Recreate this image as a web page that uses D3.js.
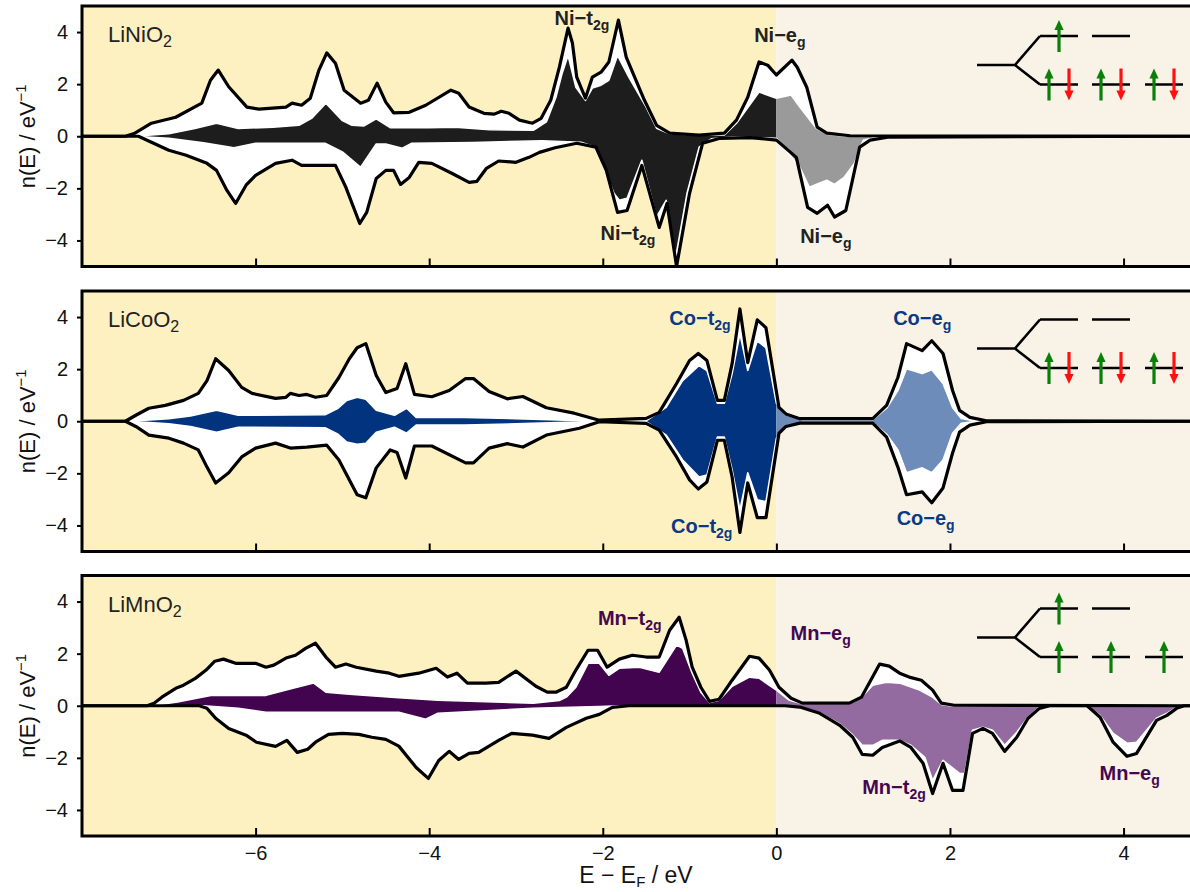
<!DOCTYPE html>
<html><head><meta charset="utf-8">
<script src="https://cdn.jsdelivr.net/npm/d3@7"></script>
<style>body{margin:0;background:#fff}</style>
</head><body>
<svg id="c" width="1190" height="892"></svg>
<script>
// ---------------- DATA ----------------
const xTicks = [-6,-4,-2,0,2,4];
const yTicks = [-4,-2,0,2,4];
const titles = ["LiNiO","LiCoO","LiMnO"];

// LiNiO2
const niTotUp = [[-8,0],[-7.5,0],[-7.4,0.1],[-7.2,0.5],[-6.92,0.73],[-6.62,1.27],[-6.52,2.15],[-6.43,2.54],[-6.31,1.9],[-6.1,1.12],[-5.96,1.04],[-5.65,1.12],[-5.58,1.27],[-5.47,1.19],[-5.37,1.46],[-5.27,2.54],[-5.18,3.2],[-5.08,2.8],[-4.98,1.77],[-4.79,1.27],[-4.7,1.38],[-4.6,2.04],[-4.5,1.31],[-4.41,0.9],[-4.23,0.92],[-4.04,1.19],[-3.75,1.77],[-3.66,1.65],[-3.54,1.12],[-3.37,0.88],[-3.25,0.85],[-3.17,0.96],[-3.08,0.88],[-2.96,0.62],[-2.81,0.5],[-2.71,0.69],[-2.6,1.38],[-2.5,2.65],[-2.4,4.15],[-2.35,3.58],[-2.3,2.27],[-2.2,1.46],[-2.12,2.27],[-2.02,2.46],[-1.93,2.85],[-1.82,4.46],[-1.73,3.04],[-1.52,1.38],[-1.38,0.42],[-1.23,0.12],[-0.89,0.04],[-0.6,0.12],[-0.46,0.62],[-0.33,1.5],[-0.2,2.85],[-0.1,2.73],[0,2.35],[0.18,2.92],[0.24,2.65],[0.35,1.88],[0.47,0.35],[0.58,0.12],[0.85,0.02],[4.8,0]];
const niTotDn = [[-8,0],[-7.35,0],[-7.2,-0.23],[-7.0,-0.54],[-6.8,-0.73],[-6.56,-1.04],[-6.45,-1.31],[-6.33,-2.08],[-6.23,-2.58],[-6.11,-1.88],[-6.0,-1.5],[-5.77,-1.04],[-5.58,-0.92],[-5.47,-1.12],[-5.08,-1.12],[-4.96,-1.96],[-4.8,-3.35],[-4.72,-2.92],[-4.61,-1.62],[-4.5,-1.31],[-4.41,-1.31],[-4.33,-1.85],[-4.23,-1.58],[-4.12,-1.0],[-3.97,-1.04],[-3.74,-1.42],[-3.54,-1.77],[-3.45,-1.73],[-3.34,-1.23],[-3.2,-0.95],[-3.0,-1.0],[-2.85,-0.81],[-2.73,-0.62],[-2.55,-0.44],[-2.3,-0.27],[-2.08,-0.42],[-1.96,-1.31],[-1.83,-2.92],[-1.72,-2.85],[-1.55,-1.12],[-1.35,-3.5],[-1.26,-2.58],[-1.15,-5.0],[-1.0,-2.19],[-0.85,-0.27],[-0.65,-0.08],[-0.3,-0.05],[0,-0.15],[0.23,-0.81],[0.36,-2.73],[0.47,-2.96],[0.59,-2.65],[0.67,-3.1],[0.8,-2.85],[0.96,-0.42],[1.08,-0.15],[1.3,-0.03],[4.8,0]];
const niDUp = [[-8,0],[-7.4,0],[-7.0,0.1],[-6.7,0.3],[-6.45,0.5],[-6.2,0.3],[-5.8,0.35],[-5.5,0.42],[-5.35,0.7],[-5.19,1.27],[-5.0,0.6],[-4.89,0.42],[-4.75,0.4],[-4.61,0.67],[-4.45,0.33],[-4.0,0.33],[-3.7,0.35],[-3.3,0.25],[-2.8,0.23],[-2.65,0.55],[-2.54,1.5],[-2.47,2.4],[-2.4,3.1],[-2.31,1.88],[-2.2,1.38],[-2.12,1.85],[-2.02,1.96],[-1.93,2.15],[-1.83,3.1],[-1.7,2.27],[-1.5,1.12],[-1.38,0.31],[-1.23,0.1],[-0.9,0.04],[-0.6,0.05],[-0.46,0.5],[-0.31,1.19],[-0.2,1.7],[0,1.46],[0.17,1.58],[0.27,1.12],[0.46,0.31],[0.58,0.08],[0.8,0],[4.8,0]];
const niDDn = [[-8,0],[-7.4,0],[-7.0,-0.08],[-6.6,-0.25],[-6.25,-0.44],[-6.0,-0.27],[-5.2,-0.27],[-5.0,-0.6],[-4.79,-1.19],[-4.61,-0.3],[-4.5,-0.3],[-4.31,-0.46],[-4.2,-0.27],[-3.5,-0.24],[-2.7,-0.17],[-2.25,-0.23],[-2.08,-0.42],[-1.87,-2.2],[-1.81,-2.46],[-1.72,-2.38],[-1.55,-0.92],[-1.38,-3.1],[-1.27,-2.46],[-1.16,-4.65],[-1.03,-2.2],[-0.89,-0.42],[-0.75,-0.1],[-0.5,-0.03],[0,-0.08],[0.27,-1.19],[0.38,-1.96],[0.58,-1.69],[0.67,-1.85],[0.78,-1.58],[0.9,-1.04],[1.0,-0.15],[1.2,0],[4.8,0]];

// LiCoO2
const coTotUp = [[-8,0],[-7.5,0],[-7.38,0.23],[-7.23,0.5],[-7.04,0.61],[-6.83,0.8],[-6.66,1.07],[-6.56,1.56],[-6.46,2.4],[-6.31,1.95],[-6.16,1.3],[-6.04,1.07],[-5.77,0.88],[-5.65,0.92],[-5.6,1.07],[-5.5,0.99],[-5.41,1.03],[-5.31,0.92],[-5.18,0.99],[-5.04,1.68],[-4.92,2.4],[-4.83,2.82],[-4.73,2.98],[-4.61,1.76],[-4.5,1.1],[-4.37,1.26],[-4.27,2.21],[-4.17,1.03],[-3.97,0.94],[-3.77,1.18],[-3.58,1.64],[-3.49,1.64],[-3.31,1.14],[-3.1,0.86],[-2.92,0.95],[-2.65,0.52],[-2.33,0.31],[-2.04,0.04],[-1.5,0.11],[-1.35,0.34],[-1.15,1.45],[-1.0,2.33],[-0.9,2.6],[-0.8,2.33],[-0.68,0.8],[-0.6,0.8],[-0.51,2.21],[-0.42,4.31],[-0.33,2.25],[-0.22,3.89],[-0.12,3.59],[0.03,0.53],[0.11,0.28],[0.27,0.1],[1.11,0.1],[1.27,0.61],[1.4,1.68],[1.5,2.98],[1.68,2.71],[1.79,3.09],[1.92,2.6],[2.03,1.18],[2.11,0.42],[2.23,0.15],[2.42,0.02],[4.8,0]];
const coTotDn = [[-8,0],[-7.5,0],[-7.38,-0.2],[-7.23,-0.53],[-7.0,-0.65],[-6.83,-0.84],[-6.66,-1.1],[-6.56,-1.76],[-6.46,-2.37],[-6.31,-1.98],[-6.16,-1.37],[-6.0,-1.03],[-5.77,-0.84],[-5.6,-1.03],[-5.41,-0.99],[-5.18,-0.92],[-5.04,-1.49],[-4.83,-2.82],[-4.73,-2.94],[-4.61,-1.79],[-4.45,-1.1],[-4.37,-1.2],[-4.27,-2.18],[-4.17,-0.95],[-3.97,-0.95],[-3.58,-1.6],[-3.49,-1.6],[-3.31,-1.03],[-3.1,-0.86],[-2.92,-0.99],[-2.65,-0.53],[-2.27,-0.27],[-2.04,-0.02],[-1.5,-0.08],[-1.35,-0.34],[-1.15,-1.37],[-1.0,-2.25],[-0.9,-2.6],[-0.8,-2.33],[-0.68,-0.73],[-0.6,-0.73],[-0.51,-2.14],[-0.42,-4.27],[-0.33,-2.37],[-0.22,-3.7],[-0.12,-3.7],[0.03,-0.46],[0.11,-0.2],[0.27,-0.07],[1.11,-0.07],[1.27,-0.61],[1.4,-1.76],[1.5,-2.82],[1.68,-2.71],[1.79,-3.13],[1.92,-2.56],[2.03,-1.22],[2.11,-0.42],[2.23,-0.15],[2.42,-0.02],[4.8,0]];
const coDUp = [[-8,0],[-7.45,0],[-7.0,0.1],[-6.75,0.2],[-6.45,0.42],[-6.2,0.23],[-5.2,0.25],[-5.05,0.5],[-4.95,0.8],[-4.83,0.92],[-4.73,0.85],[-4.61,0.42],[-4.4,0.23],[-4.26,0.5],[-4.15,0.15],[-3.6,0.15],[-3.0,0.1],[-2.04,0],[-1.5,0.02],[-1.27,0.53],[-1.08,1.56],[-0.89,2.14],[-0.8,1.95],[-0.68,0.69],[-0.6,0.69],[-0.51,1.83],[-0.42,3.36],[-0.33,1.95],[-0.22,3.09],[-0.12,2.82],[0,0.69],[0.11,0.25],[0.3,0.06],[1.11,0.06],[1.27,0.5],[1.4,1.18],[1.5,2.02],[1.68,1.83],[1.79,1.98],[1.92,1.45],[2.03,0.53],[2.13,0.11],[2.3,0],[4.8,0]];
const coDDn = [[-8,0],[-7.45,0],[-7.0,-0.1],[-6.75,-0.2],[-6.45,-0.42],[-6.2,-0.23],[-5.2,-0.25],[-5.05,-0.5],[-4.95,-0.8],[-4.83,-0.88],[-4.73,-0.85],[-4.61,-0.42],[-4.4,-0.23],[-4.26,-0.46],[-4.15,-0.15],[-3.6,-0.15],[-3.0,-0.1],[-2.04,0],[-1.5,-0.02],[-1.27,-0.53],[-1.08,-1.49],[-0.89,-2.14],[-0.8,-2.06],[-0.68,-0.61],[-0.6,-0.61],[-0.51,-1.87],[-0.42,-3.4],[-0.33,-1.98],[-0.22,-3.01],[-0.12,-3.09],[0,-0.65],[0.11,-0.2],[0.3,-0.05],[1.11,-0.05],[1.27,-0.5],[1.4,-1.1],[1.5,-1.98],[1.68,-1.79],[1.79,-1.98],[1.92,-1.49],[2.03,-0.46],[2.13,-0.08],[2.3,0],[4.8,0]];

// LiMnO2
const mnTotUp = [[-8,0],[-7.25,0],[-7.17,0.1],[-7.08,0.33],[-6.92,0.67],[-6.83,0.79],[-6.69,1.06],[-6.57,1.37],[-6.47,1.71],[-6.37,1.79],[-6.23,1.63],[-6.0,1.63],[-5.88,1.48],[-5.79,1.56],[-5.65,1.83],[-5.54,1.94],[-5.42,2.21],[-5.31,2.4],[-5.19,1.87],[-5.08,1.48],[-4.96,1.6],[-4.84,1.48],[-4.61,1.33],[-4.46,1.25],[-4.35,1.13],[-4.12,1.25],[-3.92,1.44],[-3.79,1.1],[-3.68,1.25],[-3.56,0.87],[-3.35,0.87],[-3.2,0.9],[-3.0,1.33],[-2.77,0.75],[-2.64,0.52],[-2.54,0.52],[-2.42,0.71],[-2.31,1.37],[-2.17,2.13],[-2.06,2.13],[-1.95,1.48],[-1.81,1.79],[-1.66,1.94],[-1.5,1.87],[-1.35,1.87],[-1.23,2.9],[-1.12,3.4],[-1.04,2.52],[-0.97,1.48],[-0.87,0.71],[-0.77,0.17],[-0.66,0.25],[-0.51,0.98],[-0.31,1.9],[-0.2,1.83],[-0.08,1.37],[0.03,0.71],[0.17,0.29],[0.3,0.1],[0.84,0.1],[0.98,0.33],[1.19,1.6],[1.3,1.52],[1.42,1.25],[1.53,1.1],[1.67,0.98],[1.8,0.6],[1.9,0.1],[2.05,0.02],[4.8,0]];
const mnTotDn = [[-8,0],[-6.65,0],[-6.56,-0.1],[-6.46,-0.48],[-6.31,-0.87],[-6.11,-1.13],[-5.99,-1.4],[-5.77,-1.56],[-5.64,-1.33],[-5.52,-1.79],[-5.4,-1.67],[-5.31,-1.4],[-5.16,-1.1],[-5.0,-1.06],[-4.81,-1.1],[-4.66,-1.21],[-4.5,-1.29],[-4.35,-1.55],[-4.15,-2.37],[-4.01,-2.79],[-3.89,-2.1],[-3.77,-1.75],[-3.66,-2.06],[-3.54,-1.83],[-3.43,-1.79],[-3.2,-1.33],[-3.05,-1.06],[-2.81,-1.13],[-2.62,-1.25],[-2.42,-0.83],[-2.19,-0.48],[-2.04,-0.33],[-1.89,-0.06],[-1.7,0],[0.1,0],[0.27,-0.05],[0.5,-0.29],[0.73,-0.75],[0.88,-1.21],[0.99,-1.87],[1.11,-1.9],[1.22,-1.6],[1.42,-1.35],[1.55,-1.6],[1.69,-2.21],[1.8,-3.37],[1.92,-2.21],[2.03,-3.25],[2.15,-3.25],[2.26,-1.06],[2.38,-0.87],[2.49,-1.06],[2.63,-1.75],[2.77,-1.21],[2.9,-0.48],[3.03,-0.1],[3.15,0],[3.58,0],[3.73,-0.44],[3.88,-1.4],[4.04,-1.94],[4.15,-1.83],[4.38,-0.56],[4.5,-0.37],[4.61,-0.1],[4.7,0],[4.8,0]];
const mnDUp = [[-8,0],[-7.2,0],[-6.9,0.15],[-6.5,0.4],[-5.88,0.4],[-5.57,0.67],[-5.33,0.87],[-5.19,0.52],[-4.92,0.44],[-4.35,0.31],[-3.9,0.21],[-2.8,0.1],[-2.5,0.2],[-2.42,0.33],[-2.31,0.71],[-2.17,1.63],[-2.04,1.63],[-1.93,1.17],[-1.81,1.44],[-1.58,1.48],[-1.35,1.29],[-1.15,2.33],[-1.08,2.21],[-0.97,1.25],[-0.87,0.52],[-0.77,0.13],[-0.66,0.21],[-0.51,0.75],[-0.31,1.1],[-0.2,1.06],[0,0.6],[0.15,0.21],[0.3,0.08],[0.84,0.08],[0.98,0.33],[1.11,0.79],[1.27,0.9],[1.42,0.87],[1.65,0.6],[1.8,0.33],[1.9,0.05],[2.0,0],[4.8,0]];
const mnDDn = [[-8,0],[-6.6,0],[-6.2,-0.1],[-5.88,-0.25],[-4.35,-0.25],[-4.04,-0.52],[-3.9,-0.29],[-2.81,-0.1],[-2.04,-0.03],[-1.8,0],[0.1,0],[0.27,-0.05],[0.5,-0.27],[0.73,-0.7],[0.88,-1.12],[0.99,-1.52],[1.11,-1.52],[1.22,-1.33],[1.42,-1.33],[1.55,-1.52],[1.71,-1.98],[1.8,-2.87],[1.92,-2.1],[2.11,-2.6],[2.17,-2.6],[2.26,-0.94],[2.38,-0.83],[2.49,-0.94],[2.63,-1.52],[2.77,-1.02],[2.9,-0.44],[3.03,-0.05],[3.15,0],[3.58,0],[3.73,-0.37],[3.88,-1.06],[4.04,-1.44],[4.15,-1.4],[4.38,-0.48],[4.5,-0.29],[4.61,-0.05],[4.7,0],[4.8,0]];

// orbital label texts
const niLabels = [["Ni","t","2g"],["Ni","e","g"],["Ni","t","2g"],["Ni","e","g"]];
const coLabels = [["Co","t","2g"],["Co","e","g"],["Co","t","2g"],["Co","e","g"]];
const mnLabels = [["Mn","t","2g"],["Mn","e","g"],["Mn","t","2g"],["Mn","e","g"]];
// electron occupation of the crystal-field levels (upper eg pair, lower t2g triple)
const niUpperOcc = [1,0], niLowerOcc = [2,2,2];
const coUpperOcc = [0,0], coLowerOcc = [2,2,2];
const mnUpperOcc = [1,0], mnLowerOcc = [1,1,1];

// ---------------- LAYOUT ----------------
const svg = d3.select("#c");
const FONT = "'Liberation Sans', Arial, Helvetica, sans-serif";
const x = d3.scaleLinear().domain([-8,4.8]).range([82,1193]);
const tops = [6, 291, 575.5], PH = 260.5;
const labelPos = [ // [E, n] for the four labels in each panel
  [[-2.24,4.27],[0.04,3.62],[-1.71,-3.98],[0.57,-4.09]],
  [[-0.88,3.69],[1.68,3.69],[-0.86,-4.29],[1.72,-3.98]],
  [[-1.69,3.1],[0.51,2.52],[1.355,-3.39],[4.07,-2.85]]
];
const diagShift = [0, -1.5, 3];

const panels = [
  {tu:niTotUp, td:niTotDn, du:niDUp, dd:niDDn, dark:"#1d1d1d", light:"#9a9a9a", tcol:"#222222", labels:niLabels, uo:niUpperOcc, lo:niLowerOcc},
  {tu:coTotUp, td:coTotDn, du:coDUp, dd:coDDn, dark:"#01337f", light:"#6d8cba", tcol:"#0b3a82", labels:coLabels, uo:coUpperOcc, lo:coLowerOcc},
  {tu:mnTotUp, td:mnTotDn, du:mnDUp, dd:mnDDn, dark:"#43044f", light:"#936ba0", tcol:"#45074f", labels:mnLabels, uo:mnUpperOcc, lo:mnLowerOcc}
];

const defs = svg.append("defs");

panels.forEach((p,i)=>{
  const top = tops[i];
  const y = d3.scaleLinear().domain([-5,5]).range([top+PH, top]);
  const g = svg.append("g");
  const line = d3.line().x(d=>x(d[0])).y(d=>y(d[1]));

  defs.append("clipPath").attr("id","cp"+i).append("rect")
    .attr("x",x(-8)).attr("y",top).attr("width",x(4.8)-x(-8)).attr("height",PH);
  defs.append("clipPath").attr("id","cl"+i).append("rect")
    .attr("x",x(-8)).attr("y",top-5).attr("width",x(0)-x(-8)).attr("height",PH+10);
  defs.append("clipPath").attr("id","cr"+i).append("rect")
    .attr("x",x(0)).attr("y",top-5).attr("width",x(4.8)-x(0)).attr("height",PH+10);

  // backgrounds
  g.append("rect").attr("x",x(-8)).attr("y",top).attr("width",x(0)-x(-8)).attr("height",PH).attr("fill","#fdf0c1");
  g.append("rect").attr("x",x(0)).attr("y",top).attr("width",x(4.8)-x(0)).attr("height",PH).attr("fill","#f8f3e6");

  const dg = g.append("g").attr("clip-path",`url(#cp${i})`);
  // total DOS envelope
  const totPoly = p.tu.concat(p.td.slice().reverse());
  dg.append("path").attr("d", line(totPoly)+"Z").attr("fill","#ffffff");
  // d-projected DOS
  const dPoly = p.du.concat(p.dd.slice().reverse());
  dg.append("g").attr("clip-path",`url(#cl${i})`).append("path").attr("d", line(dPoly)+"Z")
    .attr("fill",p.dark).attr("stroke","#ffffff").attr("stroke-width",1.6).attr("stroke-linejoin","round");
  dg.append("g").attr("clip-path",`url(#cr${i})`).append("path").attr("d", line(dPoly)+"Z")
    .attr("fill",p.light).attr("stroke","#ffffff").attr("stroke-width",1.6).attr("stroke-linejoin","round");
  // total lines
  [p.tu, p.td].forEach(s=>{
    dg.append("path").attr("d", line(s)).attr("fill","none").attr("stroke","#000")
      .attr("stroke-width",3.2).attr("stroke-linejoin","round").attr("stroke-linecap","round");
  });

  // labels
  p.labels.forEach((lb,k)=>{
    const [E,n] = labelPos[i][k];
    const t = g.append("text").attr("x",x(E)).attr("y",y(n)).attr("text-anchor","middle")
      .attr("font-family",FONT).attr("font-weight","bold").attr("font-size",20).attr("fill",p.tcol);
    t.append("tspan").text(lb[0]+"\u2212"+lb[1]);
    t.append("tspan").attr("font-size",14).attr("dy",5).text(lb[2]);
  });

  // title
  const tt = g.append("text").attr("x",108).attr("y",top+36).attr("font-family",FONT)
    .attr("font-size",22).attr("fill","#222");
  tt.append("tspan").text(titles[i]);
  tt.append("tspan").attr("font-size",16).attr("dy",5).text("2");

  // orbital diagram
  const s = diagShift[i];
  const yu = top+30+s, ym = top+59+s, yl = top+78.5+s;
  const od = g.append("g").attr("stroke","#000").attr("stroke-width",2.6).attr("fill","none");
  od.append("path").attr("d",`M977,${ym}L1015,${ym}L1040,${yu}M1015,${ym}L1040,${yl}`).attr("stroke-linejoin","miter");
  const lv = [[1040,1078],[1092,1130],[1145,1183]];
  lv.slice(0,2).forEach(l=>od.append("line").attr("x1",l[0]).attr("x2",l[1]).attr("y1",yu).attr("y2",yu));
  lv.forEach(l=>od.append("line").attr("x1",l[0]).attr("x2",l[1]).attr("y1",yl).attr("y2",yl));
  const arrow = (cx,cy,up)=>{
    const col = up ? "#0a7f0a" : "#ff1010";
    const d = up ? -1 : 1;
    const tip = cy + d*16, tail = cy - d*16;
    g.append("line").attr("x1",cx).attr("x2",cx).attr("y1",tail).attr("y2",tip - d*8)
      .attr("stroke",col).attr("stroke-width",3.2);
    g.append("path").attr("d",`M${cx},${tip}L${cx-4.6},${tip-d*10}L${cx+4.6},${tip-d*10}Z`).attr("fill",col);
  };
  const place = (occ, levels, cy)=>{
    occ.forEach((o,k)=>{
      const c = (levels[k][0]+levels[k][1])/2;
      if(o===1) arrow(c,cy,true);
      if(o===2){ arrow(c-10,cy,true); arrow(c+10,cy,false); }
    });
  };
  place(p.uo, lv, yu);
  place(p.lo, lv, yl);

  // border
  g.append("rect").attr("x",x(-8)).attr("y",top).attr("width",x(4.8)-x(-8)).attr("height",PH)
    .attr("fill","none").attr("stroke","#000").attr("stroke-width",3);

  // axes
  const xa = g.append("g").attr("transform",`translate(0,${top+PH})`)
    .call(d3.axisBottom(x).tickValues(xTicks).tickSize(-8).tickPadding(10)
      .tickFormat(i===2 ? d3.format("d") : ()=>""));
  const ya = g.append("g").attr("transform",`translate(${x(-8)},0)`)
    .call(d3.axisLeft(y).tickValues(yTicks).tickSize(5).tickPadding(9).tickFormat(d3.format("d")));
  [xa,ya].forEach(a=>{
    a.select(".domain").remove();
    a.selectAll("line").attr("stroke","#000").attr("stroke-width",2);
    a.selectAll("text").attr("font-family",FONT).attr("font-size",20).attr("fill","#111");
  });

  // y label
  const yl2 = g.append("text").attr("transform",`translate(35,${top+PH/2}) rotate(-90)`)
    .attr("text-anchor","middle").attr("font-family",FONT).attr("font-size",22).attr("fill","#111");
  yl2.append("tspan").text("n(E) / eV");
  yl2.append("tspan").attr("font-size",15).attr("dy",-9).text("\u22121");
});

// x label
const xl = svg.append("text").attr("x",636).attr("y",883).attr("text-anchor","middle")
  .attr("font-family",FONT).attr("font-size",23).attr("fill","#111");
xl.append("tspan").text("E \u2212 E");
xl.append("tspan").attr("font-size",15).attr("dy",4).text("F");
xl.append("tspan").attr("dy",-4).text(" / eV");
</script>
</body></html>
